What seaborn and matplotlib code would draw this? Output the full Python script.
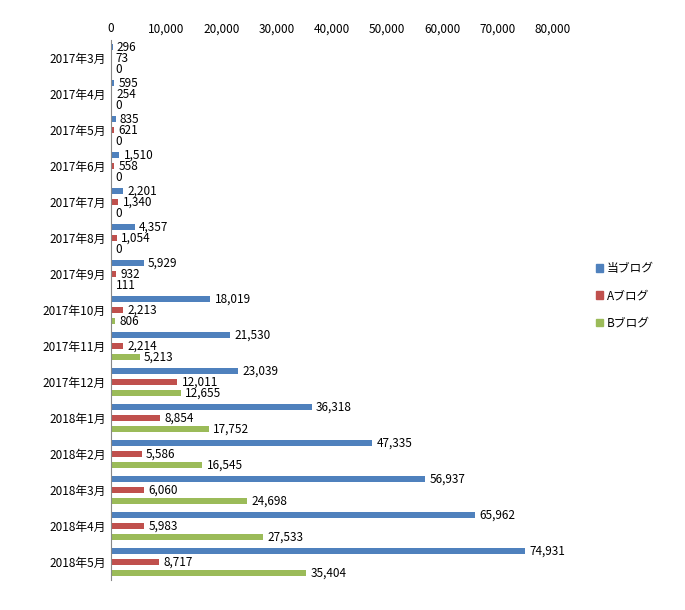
import matplotlib
matplotlib.use("Agg")
import matplotlib.pyplot as plt
import seaborn as sns
import pandas as pd
from matplotlib.patches import Patch

months = ["2017年3月","2017年4月","2017年5月","2017年6月","2017年7月","2017年8月","2017年9月",
          "2017年10月","2017年11月","2017年12月","2018年1月","2018年2月","2018年3月","2018年4月","2018年5月"]
ours = [296,595,835,1510,2201,4357,5929,18019,21530,23039,36318,47335,56937,65962,74931]
a_blog = [73,254,621,558,1340,1054,932,2213,2214,12011,8854,5586,6060,5983,8717]
b_blog = [0,0,0,0,0,0,111,806,5213,12655,17752,16545,24698,27533,35404]
series = ["当ブログ","Aブログ","Bブログ"]
colors = ["#4F81BD","#C0504D","#9BBB59"]

rows = []
for i, m in enumerate(months):
    for s, vals in zip(series, [ours, a_blog, b_blog]):
        rows.append({"month": m, "series": s, "value": vals[i]})
df = pd.DataFrame(rows)

plt.rcParams["font.family"] = "Noto Sans CJK JP"
fig = plt.figure(figsize=(6.85, 6.10), dpi=100)
ax = fig.add_axes([0.162, 0.049, 0.645, 0.885])
sns.barplot(data=df, y="month", x="value", hue="series", palette=colors,
            orient="h", width=0.92, ax=ax, legend=False, saturation=1)

for p in ax.patches:
    h = p.get_height()
    c = p.get_y() + h / 2
    nh = 0.17
    p.set_y(c - nh / 2)
    p.set_height(nh)

for cont in ax.containers:
    ax.bar_label(cont, labels=[f"{v:,.0f}" for v in cont.datavalues], padding=3, fontsize=8.5)

ax.set_xlim(0, 80000)
ax.set_ylim(len(months) - 0.5, -0.5)
ax.xaxis.tick_top()
ax.set_xticks(range(0, 80001, 10000))
ax.set_xticklabels([f"{v:,}" for v in range(0, 80001, 10000)], fontsize=8.5)
ax.tick_params(axis="y", labelsize=8.5, length=0)
ax.tick_params(axis="x", length=0)
ax.set_xlabel("")
ax.set_ylabel("")
for s in ["top", "right", "bottom"]:
    ax.spines[s].set_visible(False)
ax.spines["left"].set_color("#888888")

handles = [Patch(color=c, label=s) for c, s in zip(colors, series)]
fig.legend(handles=handles, loc="center left", bbox_to_anchor=(0.855, 0.515), frameon=False,
           fontsize=8.5, handlelength=0.6, handleheight=0.6, labelspacing=1.2, handletextpad=0.3)
fig.savefig("out.png", dpi=100)
